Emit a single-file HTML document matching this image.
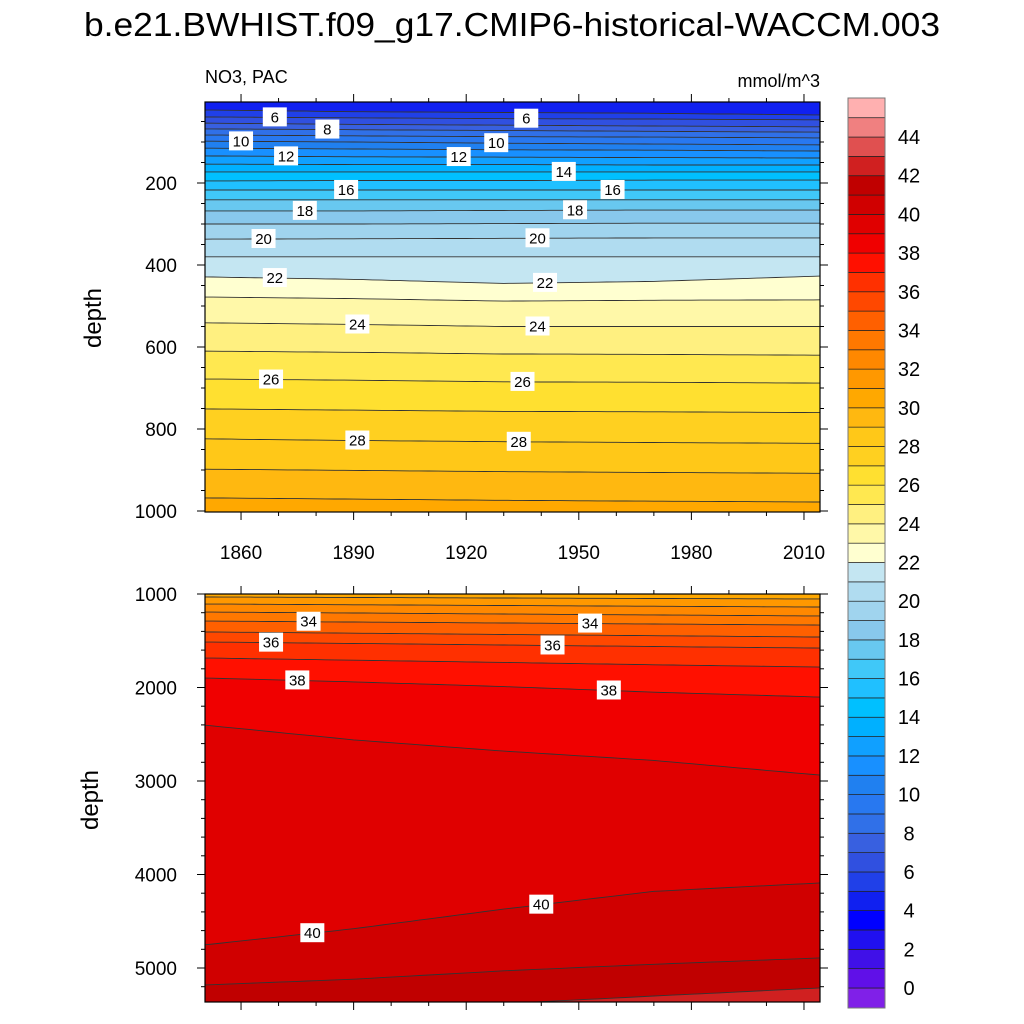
<!DOCTYPE html>
<html><head><meta charset="utf-8"><style>
html,body{margin:0;padding:0;background:#fff;}
svg{display:block;font-family:"Liberation Sans",sans-serif;}
</style></head><body>
<svg id="chart" width="1024" height="1024" viewBox="0 0 1024 1024" xmlns="http://www.w3.org/2000/svg">
<text x="512" y="36" text-anchor="middle" font-size="33" textLength="856" lengthAdjust="spacingAndGlyphs">b.e21.BWHIST.f09_g17.CMIP6-historical-WACCM.003</text>
<text x="205" y="83" font-size="18">NO3, PAC</text>
<text x="820" y="87" text-anchor="end" font-size="18">mmol/m^3</text>
<g id="top"></g><g id="bot"></g><g id="cbar"></g>
</svg>
<script>
const years=[1850,1890,1930,1970,2014];
const topLevels=[5,6,7,8,9,10,11,12,13,14,15,16,17,18,19,20,21,22,23,24,25,26,27,28,29,30];
const topDepths=[
[22,26,28,30,34],[39,41,43,44,46],[54,57,59,61,63],[68,70,72,74,76],[83,85,87,88,90],
[98,100,103,105,107],[115,117,119,120,122],[134,136,137,138,139],[154,155,155,156,156],
[173,173,173,173,173],[195,194,194,193,193],[217,217,217,217,217],[241,241,241,241,241],
[268,268,267,266,266],[300,300,299,298,298],[337,336,335,334,334],[380,380,380,380,380],
[429,435,445,440,427],[478,482,488,486,485],[541,545,550,550,550],[610,613,617,618,620],
[678,681,685,686,688],[751,754,757,758,760],[824,828,831,833,835],[898,901,904,906,908],
[968,971,974,976,978]];
const botLevels=[31,32,33,34,35,36,37,38,39,40,41,42];
const botDepths=[
[1032,1037,1043,1048,1053],[1107,1115,1123,1131,1139],[1193,1203,1214,1224,1235],
[1289,1300,1310,1321,1332],[1406,1419,1433,1446,1460],[1513,1529,1545,1562,1578],
[1684,1708,1732,1757,1781],[1898,1940,1990,2050,2102],[2401,2560,2680,2780,2936],
[4754,4580,4370,4180,4091],[5182,5120,5030,4960,4893],[5700,5550,5380,5300,5214]];
const cbColors=["#8020e8","#6010e8","#4010e8","#2010f0","#0000ff","#1020f0","#2040e8","#3050e0","#3860e0","#3070e8","#2878f0","#2080f0","#1890ff","#10a0ff","#00b0ff","#00c0ff","#20c0ff","#40c8f8","#68c8f0","#88c8ec","#a0d4ee","#b0dcf0","#c4e6f2","#ffffd0","#fff8a8","#fff080","#ffe850","#ffe030","#ffd020","#ffc818","#ffb810","#ffa800","#ff9800","#ff8800","#ff7800","#ff6000","#ff4800","#ff3000","#ff1000","#f00000","#e00000","#d00000","#c00000","#d02020","#e05050","#f08080","#ffb0b0"];
const cbTicks=[0,2,4,6,8,10,12,14,16,18,20,22,24,26,28,30,32,34,36,38,40,42,44];
const topLabYears=[1869,1883,1860,1872,1888,1877,1866,1869,1891,1868,1891,1936,1928,1918,1946,1959,1949,1939,1941,1939,1935,1934];
const topLabLevels=[6,8,10,12,16,18,20,22,24,26,28,6,10,12,14,16,18,20,22,24,26,28];
const botLabYears=[1878,1953,1868,1943,1875,1958,1879,1940];
const botLabLevels=[34,34,36,36,38,38,40,40];
const xTickYears=[1860,1890,1920,1950,1980,2010];
const topDepthTicks=[200,400,600,800,1000];
const botDepthTicks=[1000,2000,3000,4000,5000];

const NS="http://www.w3.org/2000/svg";
function mk(tag,attrs,parent){const e=document.createElementNS(NS,tag);for(const k in attrs)e.setAttribute(k,attrs[k]);parent.appendChild(e);return e;}
const X0=203.5,PXY=3.753,XL=205,XR=820;
const xs=y=>X0+(y-1850)*PXY;
const panels={
 top:{y0:102,y1:512,ys:d=>101+d*0.41,dmin:2,dmax:1000},
 bot:{y0:594,y1:1002,ys:d=>594+(d-1000)*0.0935,dmin:1000,dmax:5370}
};
function interp(arr,yr){for(let i=0;i<years.length-1;i++){if(yr<=years[i+1]||i==years.length-2){const t=(yr-years[i])/(years[i+1]-years[i]);return arr[i]+t*(arr[i+1]-arr[i]);}}}
function drawPanel(g,P,levels,depths,labYears,labLevels,name){
 const clip=mk('clipPath',{id:'clip-'+name},g);
 mk('rect',{x:XL,y:P.y0,width:XR-XL,height:P.y1-P.y0},clip);
 const cg=mk('g',{'clip-path':'url(#clip-'+name+')'},g);
 const bg=mk('rect',{x:XL,y:P.y0,width:XR-XL,height:P.y1-P.y0,fill:cbColors[levels[0]]},cg);
 
 
 const pts=(arr)=>{const p=[];for(let yr=1850;yr<=2015;yr+=2.5){p.push([xs(yr),P.ys(interp(arr,yr))]);}return p;};
 levels.forEach((L,i)=>{
  const p=pts(depths[i]);
  const d='M'+XL+','+(P.y1+5)+' '+p.map(q=>'L'+q[0].toFixed(1)+','+q[1].toFixed(1)).join(' ')+' L'+XR+','+(P.y1+5)+'Z';
  const band=mk('path',{d:d,fill:cbColors[L+1]},cg);
  
  
 });
 levels.forEach((L,i)=>{
  const p=pts(depths[i]);
  const line=mk('path',{d:'M'+p.map(q=>q[0].toFixed(1)+','+q[1].toFixed(1)).join(' L'),fill:'none',stroke:'#333','stroke-width':0.9},cg);
  
  
 });
 labYears.forEach((yr,i)=>{
  const L=labLevels[i];const idx=levels.indexOf(L);if(idx<0)return;
  const x=xs(yr),y=P.ys(interp(depths[idx],yr));
  const lg=mk('g',{},cg);
  
  
  mk('rect',{x:x-12,y:y-10,width:24,height:19,fill:'#fff'},lg);
  const t=mk('text',{x:x,y:y+5,'text-anchor':'middle','font-size':15},lg);t.textContent=L;
 });
 const fr=mk('rect',{x:XL,y:P.y0,width:XR-XL,height:P.y1-P.y0,fill:'none',stroke:'#000','stroke-width':1.2},g);
 
 
 for(let yr=1850;yr<=2014;yr+=10){
  const x=xs(yr);if(x<XL||x>XR)continue;const maj=xTickYears.includes(yr);const len=maj?8:4;
  mk('line',{x1:x,x2:x,y1:P.y1,y2:P.y1+len,stroke:'#000'},g);
  mk('line',{x1:x,x2:x,y1:P.y0,y2:P.y0-len,stroke:'#000'},g);
 }
 const step=name==='top'?50:200;const dt=name==='top'?topDepthTicks:botDepthTicks;
 for(let d=Math.ceil(P.dmin/step)*step;d<=P.dmax;d+=step){
  const y=P.ys(d);if(y<P.y0-0.5||y>P.y1+0.5)continue;const maj=dt.includes(d);const len=maj?8:4;
  mk('line',{x1:XL,x2:XL-len,y1:y,y2:y,stroke:'#000'},g);
  mk('line',{x1:XR,x2:XR+len,y1:y,y2:y,stroke:'#000'},g);
 }
 dt.forEach(d=>{const t=mk('text',{x:XL-28,y:P.ys(d)+7,'text-anchor':'end','font-size':19},g);t.textContent=d;
  });
}
const gt=document.getElementById('top'),gb=document.getElementById('bot');
drawPanel(gt,panels.top,topLevels,topDepths,topLabYears,topLabLevels,'top');
drawPanel(gb,panels.bot,botLevels,botDepths,botLabYears,botLabLevels,'bot');
xTickYears.forEach(yr=>{const t=mk('text',{x:xs(yr),y:559,'text-anchor':'middle','font-size':19},gt);t.textContent=yr;
 });
let a=mk('text',{x:0,y:0,'font-size':24,'text-anchor':'middle',transform:'translate(101,318) rotate(-90)'},gt);a.textContent='depth';

a=mk('text',{x:0,y:0,'font-size':24,'text-anchor':'middle',transform:'translate(98,800) rotate(-90)'},gb);a.textContent='depth';

const cb=document.getElementById('cbar');const CB0=988,CBU=19.34,CBX=848,CBW=37;
const cy=v=>CB0-v*CBU;
cbColors.forEach((c,i)=>{
 const v=i-1;const yTop=i===cbColors.length-1?98:cy(v+1);const yBot=i===0?1008:cy(v);
 const r=mk('rect',{x:CBX,y:yTop,width:CBW,height:yBot-yTop,fill:c,stroke:'#222','stroke-width':0.7},cb);
 
});
mk('rect',{x:CBX,y:98,width:CBW,height:910,fill:'none',stroke:'#777','stroke-width':1},cb);
cbTicks.forEach(v=>{const t=mk('text',{x:909,y:cy(v)+7,'text-anchor':'middle','font-size':20},cb);t.textContent=v;
 });
</script>
</body></html>
